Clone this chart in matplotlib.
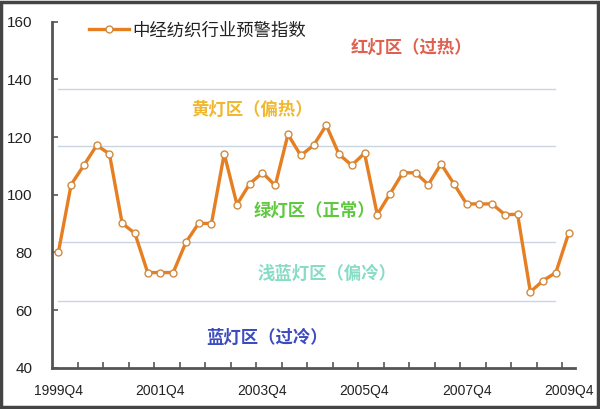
import matplotlib
matplotlib.use("Agg")
import matplotlib.pyplot as plt
from matplotlib.patches import Rectangle
import numpy as np

plt.rcParams['font.family'] = ['Noto Sans CJK SC', 'DejaVu Sans']

# ---- data ----
series_name = "中经纺织行业预警指数"
values = [80, 103.5, 110.2, 117.1, 114.2, 90.1, 86.6, 73, 73, 73,
          83.5, 90.1, 90, 114.2, 96.6, 103.8, 107.6, 103.2, 120.9, 113.6,
          117.1, 124.1, 114, 110.2, 114.4, 93.1, 100.3, 107.6, 107.6, 103.5,
          110.7, 103.8, 96.8, 96.8, 96.8, 93.1, 93.2, 66.3, 70.2, 73, 86.6]
tick_labels = ["1999Q4", "2001Q4", "2003Q4", "2005Q4", "2007Q4", "2009Q4"]
thresholds = [136.7, 116.8, 83.5, 63.3]
zone_labels = ["红灯区（过热）", "黄灯区（偏热）", "绿灯区（正常）", "浅蓝灯区（偏冷）", "蓝灯区（过冷）"]
zone_colors = ["#e0604f", "#f0b830", "#5ec83e", "#86dcc4", "#3c4cc0"]
zone_pos = [(27.7, 150.9), (15.2, 129.3), (20.1, 94.5), (21.05, 72.5), (16.35, 50.4)]

n = len(values)
x = np.arange(n)

fig = plt.figure(figsize=(6.0, 4.09), dpi=100)
ax = fig.add_axes([52/600, 1-367.7/409, 523/600, 346/409])

for t in thresholds:
    ax.plot([-0.05, 38.9], [t, t], color="#c9d6e2", lw=1, zorder=1)

ax.plot(x, values, color="#e67e22", lw=2.4, marker="o", ms=5,
        mfc="white", mec="#d08a40", mew=1, zorder=3, label=series_name)

for lab, col, (px, py) in zip(zone_labels, zone_colors, zone_pos):
    ax.text(px, py, lab, color=col, fontsize=12.5, ha="center", va="center",
            fontweight="bold", zorder=2)

ax.set_xlim(-0.5, n - 0.5)
ax.set_ylim(40, 160)
ax.set_yticks(np.arange(40, 161, 20))
ax.set_xticks(np.arange(0, n, 8))
ax.set_xticklabels(tick_labels)
ax.set_xticks(np.arange(1.5, n - 0.5, 2), minor=True)

for s in ["top", "right"]:
    ax.spines[s].set_visible(False)
for s in ["left", "bottom"]:
    ax.spines[s].set_color("#555555")
    ax.spines[s].set_linewidth(2)

ax.tick_params(axis="y", direction="in", length=4, width=1.2, color="#555555",
               labelsize=11, pad=14, labelcolor="#222222")
ax.tick_params(axis="x", which="major", length=0, labelsize=10, pad=12,
               labelcolor="#222222")
ax.tick_params(axis="x", which="minor", direction="in", length=4, width=1.2,
               color="#555555")
for lbl in ax.get_xticklabels() + ax.get_yticklabels():
    lbl.set_fontfamily(["Liberation Sans", "DejaVu Sans"])

leg = ax.legend(loc="center left", bbox_to_anchor=(0.07, 0.975), frameon=False,
                fontsize=12.5, handlelength=2.3, handletextpad=0.2, borderpad=0,
                borderaxespad=0)
for t in leg.get_texts():
    t.set_color("#222222")

fig.patches.append(Rectangle((0.002, 0.004), 0.994, 0.992, transform=fig.transFigure,
                             fill=False, edgecolor="#444444", lw=2.5))

fig.savefig("out.png", dpi=100, facecolor="white")
